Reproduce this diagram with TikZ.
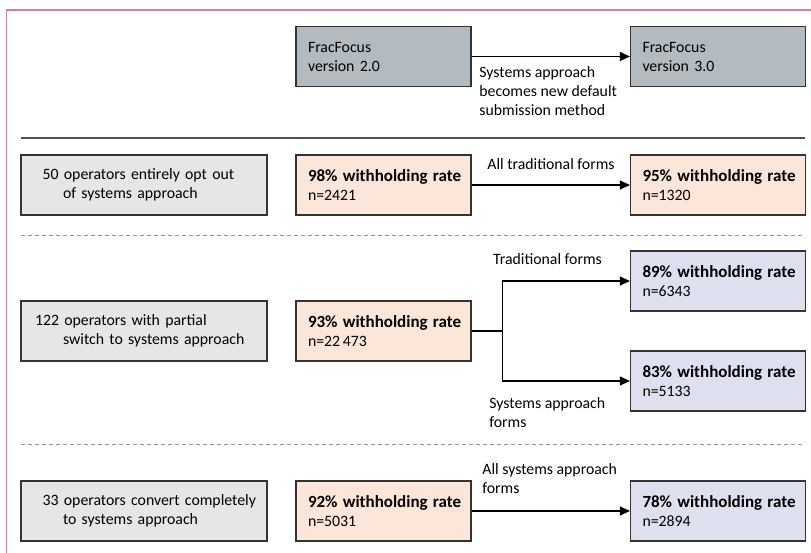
\documentclass[tikz,border=0pt]{standalone}
\usepackage{fontspec}
\setmainfont{Carlito}
\usetikzlibrary{arrows.meta}
\definecolor{framepink}{RGB}{222,126,154}
\definecolor{ffgrey}{RGB}{180,187,192}
\definecolor{opgrey}{RGB}{229,230,231}
\definecolor{ratesalmon}{RGB}{252,229,217}
\definecolor{ratelilac}{RGB}{222,224,240}
\definecolor{dashgrey}{RGB}{135,155,170}
\definecolor{rulegrey}{RGB}{80,80,80}
\newcommand{\ratelines}[2]{\mbox{\fontsize{8.5}{9.5}\selectfont\bfseries #1\% withholding rate}\\n=#2}

\begin{document}
\begin{tikzpicture}[x=0.5pt,y=-0.5pt,
    every node/.style={font=\fontsize{7.9}{9.5}\selectfont},
    box/.style={draw=black!80,line width=0.6pt,minimum height=30pt,
      inner xsep=6pt,inner ysep=0pt,align=left,text width=75.5pt},
    ffbox/.style={box,fill=ffgrey},
    opbox/.style={box,fill=opgrey,inner xsep=0pt,text width=123pt},
    salmonbox/.style={box,fill=ratesalmon},
    lilacbox/.style={box,fill=ratelilac},
    lbl/.style={inner sep=0pt,align=left},
    arr/.style={-{Triangle[length=5pt,width=4.5pt]},line width=0.6pt}]
  \useasboundingbox (0,0) rectangle (811,553);
  \draw[framepink,line width=0.8pt] (811,10) -- (6.5,10) -- (6.5,553);

  % version change
  \node[ffbox] (ff2) at (383.5,56.5) {FracFocus\\version 2.0};
  \node[ffbox] (ff3) at (718,56.5) {FracFocus\\version 3.0};
  \draw[arr] (ff2) -- (ff3);
  \node[lbl,anchor=west] at (479,91)
    {Systems approach\\becomes new default\\submission method};
  \draw[rulegrey,line width=1pt] (21,138) -- (805,138);

  % opt out
  \node[opbox] (op1) at (144,185)
    {\hspace*{10.8pt}50 operators entirely opt out\\\hspace*{21pt}of systems approach};
  \node[salmonbox] (rate1) at (383.5,185) {\ratelines{98}{2421}};
  \node[salmonbox] (res1) at (718,185) {\ratelines{95}{1320}};
  \draw[arr] (rate1) -- (res1);
  \node[lbl] at (551,164) {All traditional forms};
  \draw[dashgrey,line width=0.5pt,dash pattern=on 2pt off 1.5pt] (21,235) -- (805,235);

  % partial switch
  \node[opbox] (op2) at (144,331)
    {\hspace*{7pt}122 operators with partial\\\hspace*{21pt}switch to systems approach};
  \node[salmonbox] (rate2) at (383.5,331) {\ratelines{93}{22\,473}};
  \node[lilacbox] (trad2) at (718,281) {\ratelines{89}{6343}};
  \node[lilacbox] (sys2) at (718,381) {\ratelines{83}{5133}};
  \draw[arr] (rate2.east) -- ++(31,0) |- (trad2);
  \draw[arr] (rate2.east) -- ++(31,0) |- (sys2);
  \node[lbl] at (547.5,259) {Traditional forms};
  \node[lbl,anchor=west] at (489,413) {Systems approach\\forms};
  \draw[dashgrey,line width=0.5pt,dash pattern=on 2pt off 1.5pt] (21,444) -- (805,444);

  % full conversion
  \node[opbox] (op3) at (144,511)
    {\hspace*{10.8pt}33 operators convert completely\\\hspace*{21pt}to systems approach};
  \node[salmonbox] (rate3) at (383.5,511) {\ratelines{92}{5031}};
  \node[lilacbox] (res3) at (718,511) {\ratelines{78}{2894}};
  \draw[arr] (rate3) -- (res3);
  \node[lbl,anchor=west] at (482,479) {All systems approach\\forms};
\end{tikzpicture}
\end{document}
